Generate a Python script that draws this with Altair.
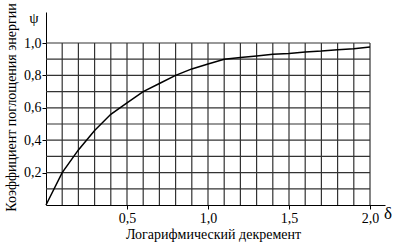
import altair as alt
import pandas as pd

# curve values
delta = [0, 0.1, 0.2, 0.3, 0.4, 0.5, 0.6, 0.7, 0.8, 0.9, 1.0, 1.1, 1.2, 1.3, 1.4, 1.5, 1.6, 1.7, 1.8, 1.9, 2.0]
psi = [0, 0.20, 0.34, 0.46, 0.56, 0.63, 0.70, 0.75, 0.80, 0.84, 0.87, 0.90, 0.91, 0.92, 0.93, 0.935, 0.945, 0.95, 0.958, 0.965, 0.975]

grid_x = [0.1, 0.2, 0.3, 0.4, 0.5, 0.6, 0.7, 0.8, 0.9, 1.0, 1.1, 1.2, 1.3, 1.4, 1.5, 1.6, 1.7, 1.8, 1.9, 2.0]
grid_y = [0.1, 0.2, 0.3, 0.4, 0.5, 0.6, 0.7, 0.8, 0.9, 1.0]
x_ticks = [0.5, 1.0, 1.5, 2.0]
y_ticks = [0.2, 0.4, 0.6, 0.8, 1.0]

FONT = "Liberation Serif"

df = pd.DataFrame({"delta": delta, "psi": psi})
gx = pd.DataFrame({"gx": grid_x})
gy = pd.DataFrame({"gy": grid_y})

xscale = alt.Scale(domain=[0, 2.0926], nice=False, zero=False)
yscale = alt.Scale(domain=[0, 1.1914], nice=False, zero=False)

label_expr = "replace(format(datum.value, '.1f'), '.', ',')"

xaxis = alt.Axis(
    title="Логарифмический декремент", values=x_ticks, labelExpr=label_expr,
    grid=False, tickSize=4, tickColor="black", domainColor="black",
    labelPadding=2, labelFont=FONT, labelFontSize=14, labelColor="black",
    titleFont=FONT, titleFontSize=14, titleFontWeight="normal", titleColor="black",
    titleX=167, titleY=29, titleBaseline="middle", titleAlign="center",
)
yaxis = alt.Axis(
    title="Коэффициент поглощения энергии", values=y_ticks, labelExpr=label_expr,
    grid=False, tickSize=4, tickColor="black", domainColor="black",
    labelPadding=1, labelFont=FONT, labelFontSize=14, labelColor="black",
    titleFont=FONT, titleFontSize=14, titleFontWeight="normal", titleColor="black",
    titleX=-35, titleY=95, titleAngle=270, titleBaseline="middle", titleAlign="center",
)

vgrid = alt.Chart(gx).mark_rule(color="#333", strokeWidth=1.2).encode(
    x=alt.X("gx:Q", scale=xscale, axis=xaxis),
    y=alt.datum(0, scale=yscale),
    y2=alt.datum(1.0),
)
hgrid = alt.Chart(gy).mark_rule(color="#333", strokeWidth=1.2).encode(
    y=alt.Y("gy:Q", scale=yscale, axis=yaxis),
    x=alt.datum(0, scale=xscale),
    x2=alt.datum(2.0),
)
line = alt.Chart(df).mark_line(color="black", strokeWidth=1.5).encode(
    x=alt.X("delta:Q", scale=xscale, axis=xaxis),
    y=alt.Y("psi:Q", scale=yscale, axis=yaxis),
)
psi_lbl = alt.Chart(pd.DataFrame({"t": ["ψ"]})).mark_text(
    font=FONT, fontSize=15, color="black", baseline="middle", align="center"
).encode(text="t:N", x=alt.value(-12), y=alt.value(6))
delta_lbl = alt.Chart(pd.DataFrame({"t": ["δ"]})).mark_text(
    font=FONT, fontSize=17, color="black", baseline="middle", align="center"
).encode(text="t:N", x=alt.value(342), y=alt.value(202))

chart = alt.layer(vgrid, hgrid, line, psi_lbl, delta_lbl).properties(
    width=339, height=193,
    autosize=alt.AutoSizeParams(type="none"),
    padding={"left": 46, "top": 12, "right": 17, "bottom": 40},
    background="white",
).configure_view(stroke=None)

chart.save("out.html", embed_options={"renderer": "svg", "actions": False})
